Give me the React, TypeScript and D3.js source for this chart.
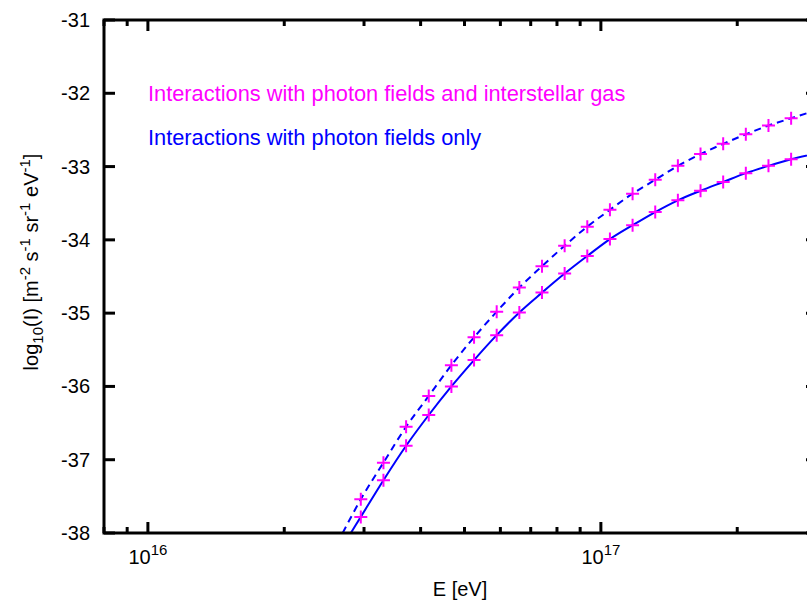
import { scaleLog, scaleLinear, line, curveMonotoneX } from 'd3'

const W = 807
const H = 600
// frame of the plot (right border lies just outside the picture)
const frame = { left: 104, top: 20, right: 817, bottom: 533 }

const eDomain = [8e15, 3e17]
const yDomain = [-38, -31]

// marker positions, log10(E / eV)
const markerLogE = [
  16.47, 16.52, 16.57, 16.62, 16.67, 16.72, 16.77, 16.82, 16.87, 16.92,
  16.97, 17.02, 17.07, 17.12, 17.17, 17.22, 17.27, 17.32, 17.37, 17.42,
]
// log10(I), photon fields + interstellar gas (dashed curve)
const withGas = [
  -37.54, -37.04, -36.55, -36.13, -35.71, -35.33, -34.98, -34.65, -34.36, -34.08,
  -33.82, -33.59, -33.37, -33.18, -32.99, -32.83, -32.69, -32.56, -32.44, -32.34,
]
// log10(I), photon fields only (solid curve)
const photonOnly = [
  -37.78, -37.28, -36.81, -36.39, -36.00, -35.64, -35.30, -34.99, -34.72, -34.46,
  -34.22, -33.99, -33.80, -33.62, -33.46, -33.33, -33.21, -33.09, -32.99, -32.90,
]
// curve ends beyond the markers [logE, logI]
const withGasEnds = [[16.43, -38], [17.477, -32.23]]
const photonOnlyEnds = [[16.448, -38], [17.477, -32.82]]

const legendGas = 'Interactions with photon fields and interstellar gas'
const legendPhoton = 'Interactions with photon fields only'

const font = '"Liberation Sans", Arial, Helvetica, sans-serif'
const blue = '#0000ff'
const magenta = '#ff00ff'

export default function App() {
  const x = scaleLog().domain(eDomain).range([frame.left, frame.right])
  const y = scaleLinear().domain(yDomain).range([frame.bottom, frame.top])

  const xTicks = x.ticks()
  const yTicks = y.ticks(7)
  const isMajor = (v: number) => Math.abs(Math.log10(v) - Math.round(Math.log10(v))) < 1e-9

  const toPts = (vals: number[], ends: number[][]) => [
    ends[0],
    ...markerLogE.map((e, i) => [e, vals[i]]),
    ends[1],
  ]
  const path = line<number[]>()
    .x(d => x(Math.pow(10, d[0])))
    .y(d => y(d[1]))
    .curve(curveMonotoneX)

  const cross = (e: number, v: number, k: string) => {
    const cx = x(Math.pow(10, e))
    const cy = y(v)
    return (
      <path key={k} d={`M${cx - 6.5},${cy}H${cx + 6.5}M${cx},${cy - 6.5}V${cy + 6.5}`}
        stroke={magenta} strokeWidth={2} fill="none" />
    )
  }

  return (
    <svg width={W} height={H} style={{ position: 'absolute', left: 0, top: 0, background: '#fff' }}
      fontFamily={font}>
      <defs>
        <clipPath id="plot">
          <rect x={frame.left} y={frame.top} width={frame.right - frame.left} height={frame.bottom - frame.top} />
        </clipPath>
      </defs>

      <g clipPath="url(#plot)">
        <path d={path(toPts(withGas, withGasEnds)) || ''} fill="none" stroke={blue} strokeWidth={2} strokeDasharray="7,5" />
        <path d={path(toPts(photonOnly, photonOnlyEnds)) || ''} fill="none" stroke={blue} strokeWidth={2} />
        {markerLogE.map((e, i) => cross(e, withGas[i], 'g' + i))}
        {markerLogE.map((e, i) => cross(e, photonOnly[i], 'p' + i))}
      </g>

      {/* ticks */}
      <g stroke="#000" strokeWidth={3}>
        {xTicks.map((t, i) => {
          const len = isMajor(t) ? 11 : 6
          const px = x(t)
          return (
            <g key={'xt' + i}>
              <line x1={px} x2={px} y1={frame.bottom} y2={frame.bottom - len} />
              <line x1={px} x2={px} y1={frame.top} y2={frame.top + len} />
            </g>
          )
        })}
        {yTicks.map((t, i) => (
          <g key={'yt' + i}>
            <line x1={frame.left} x2={frame.left + 11} y1={y(t)} y2={y(t)} />
            <line x1={frame.right} x2={frame.right - 11} y1={y(t)} y2={y(t)} />
          </g>
        ))}
      </g>

      <rect x={frame.left} y={frame.top} width={frame.right - frame.left} height={frame.bottom - frame.top}
        fill="none" stroke="#000" strokeWidth={3} />

      {/* tick labels */}
      <g fontSize={20} fill="#000">
        {yTicks.map((t, i) => (
          <text key={'yl' + i} x={90} y={y(t) + 7} textAnchor="end">{t}</text>
        ))}
        {xTicks.filter(isMajor).map((t, i) => (
          <text key={'xl' + i} x={x(t)} y={564} textAnchor="middle">
            10<tspan dy={-9} fontSize={15}>{Math.round(Math.log10(t))}</tspan>
          </text>
        ))}
      </g>

      {/* axis titles */}
      <text x={460} y={596} fontSize={20} textAnchor="middle">E [eV]</text>
      <text transform="translate(38,262) rotate(-90)" fontSize={20} textAnchor="middle">
        log<tspan dy={5} fontSize={15}>10</tspan>
        <tspan dy={-5}>(I) [m</tspan>
        <tspan dy={-8} fontSize={15}>-2</tspan>
        <tspan dy={8}> s</tspan>
        <tspan dy={-8} fontSize={15}>-1</tspan>
        <tspan dy={8}> sr</tspan>
        <tspan dy={-8} fontSize={15}>-1</tspan>
        <tspan dy={8}> eV</tspan>
        <tspan dy={-8} fontSize={15}>-1</tspan>
        <tspan dy={8}>]</tspan>
      </text>

      {/* legend */}
      <text x={148} y={101} fontSize={21.8} fill={magenta}>{legendGas}</text>
      <text x={148} y={145} fontSize={21.8} fill={blue}>{legendPhoton}</text>
    </svg>
  )
}
